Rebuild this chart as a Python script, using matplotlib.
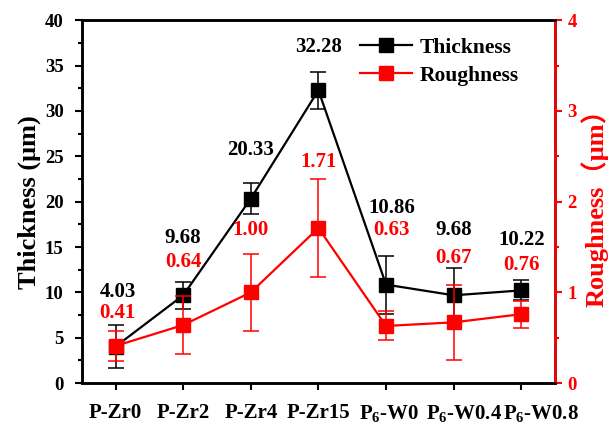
import matplotlib
matplotlib.use("Agg")
import matplotlib.pyplot as plt
import matplotlib.transforms as mtransforms
from matplotlib.ticker import MultipleLocator

categories = ["P-Zr0", "P-Zr2", "P-Zr4", "P-Zr15", "P$_6$-W0", "P$_6$-W0.4", "P$_6$-W0.8"]
thickness = [4.03, 9.68, 20.33, 32.28, 10.86, 9.68, 10.22]
thickness_err = [2.4, 1.5, 1.7, 2.05, 3.2, 3.0, 1.1]
roughness = [0.41, 0.64, 1.00, 1.71, 0.63, 0.67, 0.76]
roughness_err = [0.17, 0.32, 0.42, 0.54, 0.16, 0.41, 0.15]
thick_label_y = [10.0, 16.0, 25.7, 37.0, 19.3, 16.9, 15.8]
rough_label_y = [7.7, 13.4, 16.9, 24.4, 16.9, 13.8, 13.0]
label_dx = [0.03, 0.0, 0.0, 0.0, 0.08, 0.0, 0.0]
tick_shift_px = [0, 0, 0, 0, 3, 10, 20]

plt.rcParams['font.family'] = ['Liberation Serif', 'Noto Sans CJK SC']
plt.rcParams['font.weight'] = 'bold'
plt.rcParams['mathtext.fontset'] = 'custom'
plt.rcParams['mathtext.rm'] = 'Liberation Serif:bold'
plt.rcParams['mathtext.it'] = 'Liberation Serif:bold'
plt.rcParams['mathtext.default'] = 'rm'

fig = plt.figure(figsize=(6.1, 4.3), dpi=100)
ax = fig.add_axes([0.134, 0.109, 0.776, 0.844])
ax2 = ax.twinx()

x = list(range(len(categories)))
l1 = ax.errorbar(x, thickness, yerr=thickness_err, color='black', marker='s', markersize=10,
                 linewidth=1.6, elinewidth=1.1, capsize=5.5, capthick=1.1, label='Thickness')
l2 = ax2.errorbar(x, roughness, yerr=roughness_err, color='red', marker='s', markersize=10,
                  linewidth=1.6, elinewidth=1.1, capsize=5.5, capthick=1.1, label='Roughness')

ax.set_xlim(-0.5, 6.5)
ax.set_ylim(0, 40)
ax2.set_ylim(0, 4)
ax.set_xticks(x)
ax.set_xticklabels(categories, fontsize=15, fontweight='bold')
ax.yaxis.set_major_locator(MultipleLocator(5))
ax.yaxis.set_minor_locator(MultipleLocator(2.5))
ax2.yaxis.set_major_locator(MultipleLocator(1))
ax2.yaxis.set_minor_locator(MultipleLocator(0.5))

for a in (ax, ax2):
    for s in a.spines.values():
        s.set_linewidth(1.8)
ax2.spines['right'].set_color('red')
ax.tick_params(axis='y', which='major', direction='out', length=5, width=1.5, labelsize=13.5, pad=8)
ax.tick_params(axis='y', which='minor', direction='out', length=3, width=1.5)
ax.tick_params(axis='x', which='major', direction='out', length=5, width=1.5, pad=9)
ax2.tick_params(axis='y', which='major', direction='out', length=5, width=1.5, colors='red',
                labelsize=13.5, pad=4)
ax2.tick_params(axis='y', which='minor', direction='out', length=3, width=1.5, colors='red')
for lab in ax.get_yticklabels() + ax2.get_yticklabels():
    lab.set_fontweight('bold')

# shift the last crowded category labels to the right, as in the original
for tick, dx in zip(ax.xaxis.get_major_ticks(), tick_shift_px):
    tick.label1.set_transform(tick.label1.get_transform()
                              + mtransforms.Affine2D().translate(dx, 0))

ax.set_ylabel('Thickness (μm)', fontsize=19, fontweight='bold', labelpad=3)
ax2.set_ylabel('Roughness（μm）', fontsize=19, fontweight='bold', color='red', labelpad=3)

for i in x:
    ax.text(i + label_dx[i], thick_label_y[i], f"{thickness[i]:.2f}", ha='center', va='center',
            fontsize=15, fontweight='bold', color='black')
    ax.text(i + label_dx[i], rough_label_y[i], f"{roughness[i]:.2f}", ha='center', va='center',
            fontsize=15, fontweight='bold', color='red', zorder=5)

leg = ax2.legend([l1.lines[0], l2.lines[0]], ['Thickness', 'Roughness'], loc='upper left',
                 bbox_to_anchor=(0.57, 0.975), frameon=False, fontsize=15.5, handlelength=2.4,
                 handletextpad=0.35, labelspacing=0.35, borderaxespad=0)
for t in leg.get_texts():
    t.set_fontweight('bold')

fig.savefig('out.png', dpi=100)
